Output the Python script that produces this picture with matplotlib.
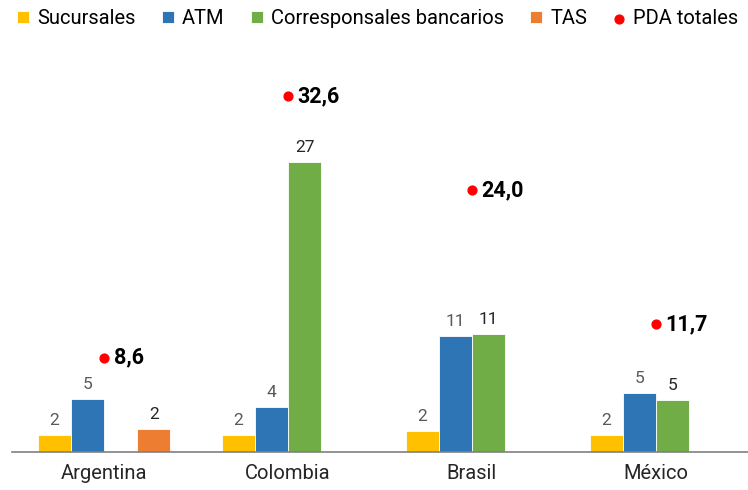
import numpy as np
import matplotlib.pyplot as plt

plt.rcParams['font.family'] = ['Roboto', 'DejaVu Sans']

# Data
paises = ['Argentina', 'Colombia', 'Brasil', 'México']
sucursales = [1.5, 1.5, 1.9, 1.5]
atm = [4.8, 4.1, 10.6, 5.4]
corresponsales = [np.nan, 26.6, 10.8, 4.7]
tas = [2.1, np.nan, np.nan, np.nan]
pda_totales = [8.6, 32.6, 24.0, 11.7]

series = [
    ('Sucursales', sucursales, '#FFC000', '#595959'),
    ('ATM', atm, '#2E75B6', '#595959'),
    ('Corresponsales bancarios', corresponsales, '#70AD47', '#262626'),
    ('TAS', tas, '#ED7D31', '#262626'),
]

fig = plt.figure(figsize=(7.48, 4.9), dpi=100)
ax = fig.add_axes([12 / 748, 38.5 / 490, 736 / 748, 392.4 / 490])

x = np.arange(len(paises))
w = 0.18
offsets = [-1.5, -0.5, 0.5, 1.5]

handles = []
for (name, vals, color, lab_color), off in zip(series, offsets):
    bars = ax.bar(x + off * w, vals, width=w, color=color,
                  edgecolor='white', linewidth=0.6, label=name)
    handles.append(bars)
    for xi, v in zip(x, vals):
        if np.isnan(v):
            continue
        ax.annotate(f'{v:.0f}', (xi + off * w, v), xytext=(0, 5),
                    textcoords='offset points', ha='center', va='bottom',
                    fontsize=12.5, color=lab_color)

dots = ax.scatter(x, pda_totales, s=40, color='#FF0000', zorder=3,
                  label='PDA totales')
for xi, v in zip(x, pda_totales):
    ax.annotate(f'{v:.1f}'.replace('.', ','), (xi, v), xytext=(7, 0),
                textcoords='offset points', ha='left', va='center',
                fontsize=15.5, fontweight='bold', color='black')

ax.set_xlim(-0.5, 3.5)
ax.set_ylim(0, 36)
ax.set_xticks(x)
ax.set_xticklabels(paises, fontsize=14.5, color='#262626')
ax.tick_params(axis='x', length=0, pad=9)
ax.set_yticks([])
for s in ['top', 'left', 'right']:
    ax.spines[s].set_visible(False)
ax.spines['bottom'].set_color('#808080')
ax.spines['bottom'].set_linewidth(1.2)

fig.legend(handles=handles + [dots], loc='upper center',
           bbox_to_anchor=(0.505, 1.01), ncol=5, frameon=False,
           fontsize=14.5, handlelength=0.6, handleheight=0.6,
           handletextpad=0.4, columnspacing=1.3, borderaxespad=0.3)

fig.savefig('out.png', dpi=100)
